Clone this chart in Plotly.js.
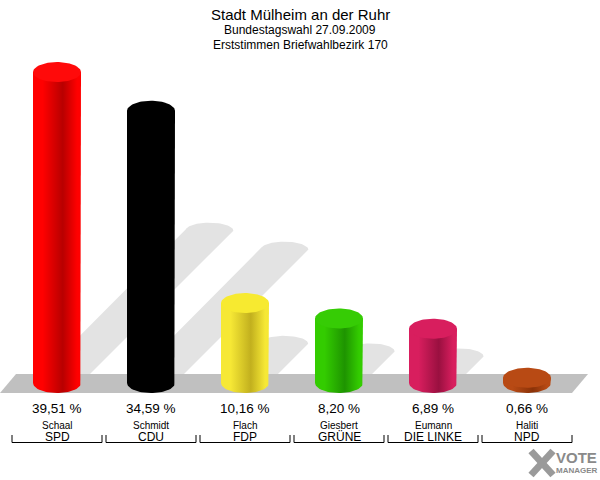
<!DOCTYPE html>
<html>
<head>
<meta charset="utf-8">
<script src="https://cdn.plot.ly/plotly-3.0.1.min.js"></script>
<style>html,body{margin:0;padding:0;background:#fff}</style>
</head>
<body>
<div id="chart" style="width:600px;height:480px"></div>
<script>
// ---- data ----
const parties = ['SPD', 'CDU', 'FDP', 'GRÜNE', 'DIE LINKE', 'NPD'];
const candidates = ['Schaal', 'Schmidt', 'Flach', 'Giesbert', 'Eumann', 'Haliti'];
const values = [39.51, 34.59, 10.16, 8.20, 6.89, 0.66];
const edgeColors = ['#ff0000', '#000000', '#f6e835', '#33cc00', '#d81e5e', '#b84a14'];
const darkColors = ['#b80000', '#000000', '#c2b01e', '#1e9400', '#9a1040', '#8a3208'];
const topColors  = ['#ff0a0a', '#000000', '#f7ea30', '#36cc05', '#d81e5e', '#b84a14'];
const titleText = 'Stadt Mülheim an der Ruhr';
const subtitle1 = 'Bundestagswahl 27.09.2009';
const subtitle2 = 'Erststimmen Briefwahlbezirk 170';

// ---- geometry (pixel scale of the axes) ----
const W = 600, H = 480;
const PX_PER_CAT = 94, FIRST_CENTER = 57;
const PX_PER_PCT = 7.87, BASE_PX = 383;
const xRange = [-FIRST_CENTER / PX_PER_CAT, (W - FIRST_CENTER) / PX_PER_CAT];
const yRange = [(BASE_PX - H) / PX_PER_PCT, BASE_PX / PX_PER_PCT];
const rx = 24 / PX_PER_CAT;      // cylinder half width
const ry = 10 / PX_PER_PCT;      // ellipse vertical radius
const rys = 8 / PX_PER_PCT;      // shadow top radius
const SHADOW = 0.49;
const N = 40;

function pyToPaper(py) { return 1 - py / H; }

const traces = [];

// shadows
values.forEach((v, i) => {
  const dy = SHADOW * v;
  const dx = dy * PX_PER_PCT / PX_PER_CAT;
  const xs = [], ys = [];
  xs.push(i - rx); ys.push(0);
  for (let k = 0; k <= N; k++) {
    const t = Math.PI - Math.PI * k / N;
    xs.push(i + dx + rx * Math.cos(t)); ys.push(dy + rys * Math.sin(t));
  }
  xs.push(i + rx); ys.push(0);
  for (let k = 0; k <= N; k++) {
    const t = Math.PI * k / N;
    xs.push(i + rx * Math.cos(t)); ys.push(-ry * Math.sin(t));
  }
  traces.push({x: xs, y: ys, type: 'scatter', mode: 'lines', fill: 'toself',
    fillcolor: '#e3e3e3', line: {width: 0}, hoverinfo: 'skip', showlegend: false});
});

// floor
const fTop = 9 / PX_PER_PCT, fBot = -10 / PX_PER_PCT;
const fLeftBot = -FIRST_CENTER / PX_PER_CAT;
const fLeftTop = fLeftBot + 16 / PX_PER_CAT;
const fRightTop = (parties.length - 1) + 61 / PX_PER_CAT;
const fRightBot = fRightTop - 16 / PX_PER_CAT;
traces.push({x: [fLeftBot, fLeftTop, fRightTop, fRightBot, fLeftBot],
  y: [fBot, fTop, fTop, fBot, fBot], type: 'scatter', mode: 'lines', fill: 'toself',
  fillcolor: '#c0c0c0', line: {width: 0}, hoverinfo: 'skip', showlegend: false});

// cylinders
values.forEach((v, i) => {
  const xs = [i - rx, i - rx, i + rx, i + rx], ys = [0, v, v, 0];
  for (let k = 0; k <= N; k++) {
    const t = Math.PI * k / N;
    xs.push(i + rx * Math.cos(t)); ys.push(-ry * Math.sin(t));
  }
  traces.push({x: xs, y: ys, type: 'scatter', mode: 'lines', fill: 'toself',
    fillcolor: edgeColors[i],
    fillgradient: {type: 'horizontal', start: i - rx, stop: i + rx,
      colorscale: [[0, edgeColors[i]], [0.2, edgeColors[i]], [0.62, darkColors[i]], [0.92, edgeColors[i]], [1, edgeColors[i]]]},
    line: {width: 0}, hoverinfo: 'skip', showlegend: false});
  const ex = [], ey = [];
  for (let k = 0; k <= 2 * N; k++) {
    const t = 2 * Math.PI * k / (2 * N);
    ex.push(i + rx * Math.cos(t)); ey.push(v + ry * Math.sin(t));
  }
  traces.push({x: ex, y: ey, type: 'scatter', mode: 'lines', fill: 'toself',
    fillcolor: topColors[i], line: {width: 0}, hoverinfo: 'skip', showlegend: false});
});

const FONT = 'Arial, "Liberation Sans", sans-serif';
const annotations = [
  {text: titleText, x: 0.5, y: pyToPaper(14), font: {size: 15, color: '#000'}},
  {text: subtitle1, x: 0.5, y: pyToPaper(30), font: {size: 12, color: '#000'}},
  {text: subtitle2, x: 0.5, y: pyToPaper(45), font: {size: 12, color: '#000'}}
].map(a => Object.assign(a, {xref: 'paper', yref: 'paper', showarrow: false, xanchor: 'center', yanchor: 'middle'}));

const shapes = [];
values.forEach((v, i) => {
  annotations.push({text: v.toFixed(2).replace('.', ',') + ' %', x: i, y: pyToPaper(408),
    xref: 'x', yref: 'paper', showarrow: false, font: {size: 13.5, color: '#000'}, yanchor: 'middle'});
  annotations.push({text: candidates[i], x: i, y: pyToPaper(425.5),
    xref: 'x', yref: 'paper', showarrow: false, font: {size: 10, color: '#000'}, yanchor: 'middle'});
  annotations.push({text: parties[i], x: i, y: pyToPaper(437),
    xref: 'x', yref: 'paper', showarrow: false, font: {size: 12, color: '#000'}, yanchor: 'middle'});
  const half = 45 / PX_PER_CAT;
  shapes.push({type: 'path', xref: 'x', yref: 'paper',
    path: `M ${i - half} ${pyToPaper(435)} L ${i - half} ${pyToPaper(442.5)} L ${i + half} ${pyToPaper(442.5)} L ${i + half} ${pyToPaper(435)}`,
    line: {color: '#000', width: 1}});
});

// logo (decoration)
shapes.push({type: 'line', xref: 'paper', yref: 'paper', x0: 531 / W, y0: pyToPaper(451), x1: 553 / W, y1: pyToPaper(475),
  line: {color: '#9a9a9a', width: 7}});
shapes.push({type: 'line', xref: 'paper', yref: 'paper', x0: 553 / W, y0: pyToPaper(451), x1: 531 / W, y1: pyToPaper(475),
  line: {color: '#9a9a9a', width: 7}});
annotations.push({text: '<b>VOTE</b>', x: 554 / W, y: pyToPaper(457), xref: 'paper', yref: 'paper', showarrow: false,
  font: {size: 15, color: '#8a8a8a'}, xanchor: 'left', yanchor: 'middle'});
annotations.push({text: '<b>MANAGER</b>', x: 554 / W, y: pyToPaper(470), xref: 'paper', yref: 'paper', showarrow: false,
  font: {size: 8, color: '#8a8a8a'}, xanchor: 'left', yanchor: 'middle'});

const layout = {
  width: W, height: H,
  margin: {l: 0, r: 0, t: 0, b: 0},
  paper_bgcolor: '#fff', plot_bgcolor: '#fff',
  font: {family: FONT},
  showlegend: false,
  xaxis: {range: xRange, visible: false, fixedrange: true},
  yaxis: {range: yRange, visible: false, fixedrange: true},
  annotations: annotations,
  shapes: shapes
};

Plotly.newPlot('chart', traces, layout, {staticPlot: true, displayModeBar: false});
</script>
</body>
</html>
